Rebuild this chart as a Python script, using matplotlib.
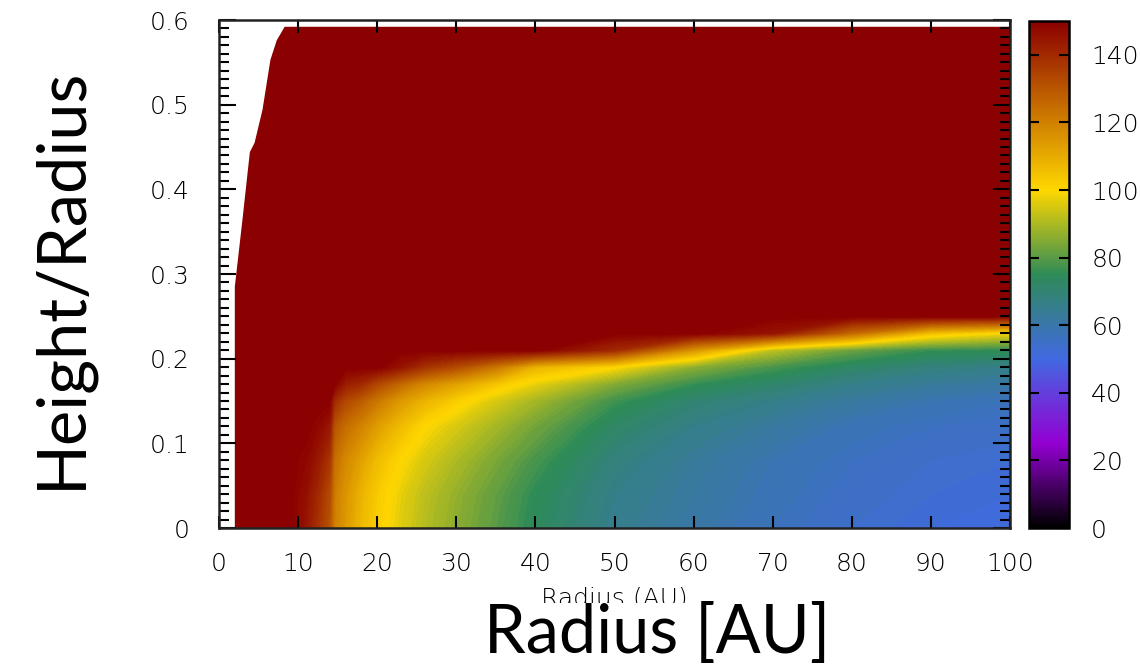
import numpy as np
import matplotlib
matplotlib.use("Agg")
import matplotlib.pyplot as plt
from matplotlib.colors import LinearSegmentedColormap, Normalize
from matplotlib.cm import ScalarMappable
from matplotlib.patches import Polygon

# radius grid (AU) and height/radius grid of the temperature table
radius = [2, 9, 11, 12.5, 14, 14.6, 16, 18, 20, 23, 26, 30, 35, 40, 50, 60, 70, 80, 90, 100]
height = [0, 0.04, 0.08, 0.12, 0.15, 0.17, 0.19, 0.21, 0.23, 0.25, 0.6]

# temperature (K), one row per height level
t_000 = [150, 150, 145, 138, 130, 120, 114, 107, 102, 96, 91, 86, 80, 74, 65, 61, 57, 54, 52, 51]
t_004 = [150, 150, 146, 140, 132, 121, 115, 108, 103, 97, 92, 87, 81, 75, 66, 62, 58, 55, 53, 52]
t_008 = [150, 150, 148, 144, 137, 124, 118, 112, 106, 100, 95, 90, 84, 78, 68, 63, 59, 56, 54, 53]
t_012 = [150, 150, 150, 148, 144, 130, 124, 119, 113, 106, 100, 95, 89, 83, 72, 66, 62, 58, 56, 55]
t_015 = [150, 150, 150, 150, 150, 140, 133, 128, 122, 114, 108, 102, 95, 89, 77, 70, 66, 62, 59, 57]
t_017 = [150, 150, 150, 150, 150, 150, 143, 140, 133, 125, 118, 112, 104, 97, 85, 76, 71, 66, 63, 61]
t_019 = [150, 150, 150, 150, 150, 150, 150, 150, 150, 145, 138, 132, 122, 108, 100, 86, 78, 72, 68, 66]
t_021 = [150, 150, 150, 150, 150, 150, 150, 150, 150, 150, 150, 150, 150, 150, 140, 115, 92, 82, 76, 75]
t_023 = [150, 150, 150, 150, 150, 150, 150, 150, 150, 150, 150, 150, 150, 150, 150, 150, 145, 125, 105, 98]
t_025 = [150] * 20
t_060 = [150] * 20

# outline of the region that has data (white outside)
edge_r = [2, 2, 3, 3.9, 4.5, 5.5, 6.5, 7.3, 8.3, 100, 100]
edge_z = [0, 0.285, 0.367, 0.444, 0.455, 0.494, 0.553, 0.576, 0.592, 0.592, 0]

temp = np.array([t_000, t_004, t_008, t_012, t_015, t_017, t_019, t_021, t_023, t_025, t_060])

cmap = LinearSegmentedColormap.from_list(
    "disk", [(0, "black"), (25 / 150, "darkviolet"), (50 / 150, "royalblue"),
             (75 / 150, "seagreen"), (100 / 150, "gold"), (1, "darkred")])
norm = Normalize(0, 150)

fig = plt.figure(figsize=(11.4, 6.67), dpi=100)
ax = fig.add_axes([219 / 1140, 1 - 528 / 667, 791 / 1140, 508 / 667])
cax = fig.add_axes([1029 / 1140, 1 - 528 / 667, 40 / 1140, 507 / 667])

cs = ax.contourf(radius, height, temp, levels=np.linspace(0, 150, 151), cmap=cmap, norm=norm)
domain = Polygon(np.column_stack([edge_r, edge_z]), closed=True, transform=ax.transData)
cs.set_clip_path(domain)

ax.set_xlim(0, 100)
ax.set_ylim(0, 0.6)
ax.set_xticks(range(0, 101, 10))
ax.set_yticks(np.arange(0, 0.61, 0.1))
ax.set_yticklabels(["0", "0.1", "0.2", "0.3", "0.4", "0.5", "0.6"])
ax.set_yticks(np.arange(0, 0.6, 0.01), minor=True)
ax.tick_params(axis="x", which="major", direction="in", top=True, length=9, width=1.5,
               labelsize=18, pad=17)
ax.tick_params(axis="y", which="major", direction="in", right=True, length=12, width=1.5,
               labelsize=18, pad=21)
ax.tick_params(axis="y", which="minor", direction="in", right=True, length=7, width=1.5)
for s in ax.spines.values():
    s.set_linewidth(1.8)
    s.set_color("#222222")
ax.set_xlabel("Radius (AU)", fontsize=18, labelpad=8, fontweight="light")

cb = fig.colorbar(ScalarMappable(norm=norm, cmap=cmap), cax=cax, ticks=range(0, 141, 20))
cb.outline.set_linewidth(1.8)
cax.tick_params(direction="in", left=True, right=True, length=7, width=1.5,
                labelsize=18, pad=16)

for lab in ax.get_xticklabels() + ax.get_yticklabels() + cax.get_yticklabels():
    lab.set_fontweight("light")

fig.text(80 / 1140, 1 - 278 / 667, "Height/Radius", rotation=90, rotation_mode="anchor",
         ha="center", va="baseline", fontfamily="Lato", fontsize=48)
fig.text(657 / 1140, 1 - 653 / 667, "Radius [AU]", ha="center", va="baseline",
         fontfamily="Lato", fontsize=48,
         bbox=dict(facecolor="white", edgecolor="none", pad=0))

fig.savefig("out.png", dpi=100)
